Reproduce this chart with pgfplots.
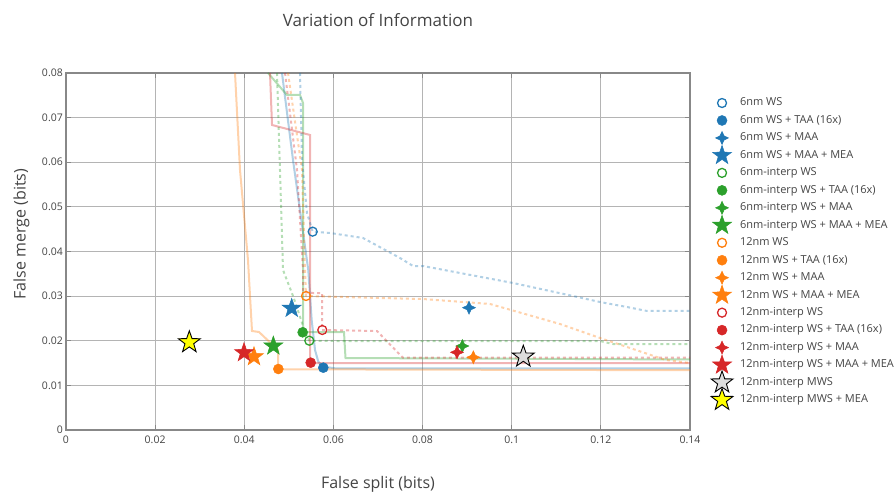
\documentclass[border=0pt]{standalone}
\usepackage{pgfplots}
\pgfplotsset{compat=1.18}
\usepackage{fontspec}
\setmainfont{Open Sans}
\definecolor{cB}{HTML}{1F77B4}
\definecolor{cO}{HTML}{FF7F0E}
\definecolor{cG}{HTML}{2CA02C}
\definecolor{cR}{HTML}{D62728}
\definecolor{txt}{HTML}{444444}
\definecolor{gridc}{HTML}{B4B4B4}
\definecolor{axc}{HTML}{888888}
\definecolor{mgray}{HTML}{DDDDDD}
\definecolor{myel}{HTML}{FFFF00}

\pgfdeclareplotmark{fivestar}{%
  \pgfpathmoveto{\pgfpointpolar{90}{\pgfplotmarksize}}%
  \pgfpathlineto{\pgfpointpolar{126}{0.4\pgfplotmarksize}}%
  \pgfpathlineto{\pgfpointpolar{162}{\pgfplotmarksize}}%
  \pgfpathlineto{\pgfpointpolar{198}{0.4\pgfplotmarksize}}%
  \pgfpathlineto{\pgfpointpolar{234}{\pgfplotmarksize}}%
  \pgfpathlineto{\pgfpointpolar{270}{0.4\pgfplotmarksize}}%
  \pgfpathlineto{\pgfpointpolar{306}{\pgfplotmarksize}}%
  \pgfpathlineto{\pgfpointpolar{342}{0.4\pgfplotmarksize}}%
  \pgfpathlineto{\pgfpointpolar{18}{\pgfplotmarksize}}%
  \pgfpathlineto{\pgfpointpolar{54}{0.4\pgfplotmarksize}}%
  \pgfpathclose
  \pgfusepathqfillstroke
}
\pgfdeclareplotmark{fourstar}{%
  \pgfpathmoveto{\pgfpointpolar{90}{\pgfplotmarksize}}%
  \pgfpathlineto{\pgfpointpolar{135}{0.45\pgfplotmarksize}}%
  \pgfpathlineto{\pgfpointpolar{180}{\pgfplotmarksize}}%
  \pgfpathlineto{\pgfpointpolar{225}{0.45\pgfplotmarksize}}%
  \pgfpathlineto{\pgfpointpolar{270}{\pgfplotmarksize}}%
  \pgfpathlineto{\pgfpointpolar{315}{0.45\pgfplotmarksize}}%
  \pgfpathlineto{\pgfpointpolar{0}{\pgfplotmarksize}}%
  \pgfpathlineto{\pgfpointpolar{45}{0.45\pgfplotmarksize}}%
  \pgfpathclose
  \pgfusepathqfillstroke
}

\pgfplotsset{
  sol/.style={forget plot, no markers, line width=2bp, draw opacity=0.35},
  dott/.style={forget plot, no markers, line width=2bp, draw opacity=0.35, dash pattern=on 3bp off 3bp},
  mk/.style={only marks,
    legend image code/.code={%
      \pgfpathrectangle{\pgfpoint{0bp}{-4bp}}{\pgfpoint{29bp}{8bp}}%
      \pgfusepath{use as bounding box}%
      \draw[mark repeat=1,##1,overlay] plot coordinates {(11bp,0bp)};
    }},
  ws/.style={mk, mark=o, mark size=4.5bp, line width=1.3bp},
  taa/.style={mk, mark=*, mark size=5bp, line width=0.5bp},
  maa/.style={mk, mark=fourstar, mark size=6.5bp, line width=0.5bp},
  mea/.style={mk, mark=fivestar, mark size=10bp, line width=0.5bp},
}

\begin{document}
\begin{tikzpicture}
\begin{axis}[
  at={(0,0)}, anchor=south west,
  scale only axis, width=624bp, height=357bp,
  xmin=0, xmax=0.14, ymin=0, ymax=0.08,
  xtick={0,0.02,0.04,0.06,0.08,0.1,0.12,0.14},
  ytick={0,0.01,0.02,0.03,0.04,0.05,0.06,0.07,0.08},
  scaled ticks=false,
  /pgf/number format/.cd, fixed, precision=2, assume math mode=true, /pgfplots/.cd,
  grid=major, major grid style={gridc, line width=1bp},
  axis line style={axc, line width=1.2bp},
  tick style={axc, line width=1bp}, tick align=inside, major tick length=5bp,
  tick label style={font=\fontsize{10.5bp}{12bp}\selectfont, text=txt},
  yticklabel style={anchor=east, inner sep=0pt, xshift=-3bp},
  xticklabel style={anchor=north, inner sep=0pt, yshift=-6bp},
  legend style={at={(1.0337,0.9404)}, anchor=north west, draw=none, fill=none,
    inner sep=0pt, outer sep=0pt, row sep=0pt, column sep=0pt,
    font=\fontsize{11bp}{13bp}\selectfont, text=txt,
    nodes={inner sep=0pt, text height=11.6bp, text depth=5.87bp}},
  legend cell align=left,
]
% ---- lines ----
\addplot[sol, cB] coordinates {(0.04846,0.08) (0.05093,0.0605) (0.05436,0.03585) (0.05512,0.02465) (0.05587,0.01793) (0.05661,0.01531) (0.05773,0.01419) (0.06035,0.01383) (0.14,0.01383)};
\addplot[sol, cG] coordinates {(0.04532,0.08) (0.04958,0.07507) (0.0525,0.07507) (0.05318,0.07328) (0.05318,0.02196) (0.06237,0.02196) (0.06271,0.01613) (0.14,0.0158)};
\addplot[sol, cR] coordinates {(0.04577,0.08) (0.04622,0.06835) (0.05475,0.06611) (0.05475,0.01501) (0.14,0.01501)};
\addplot[sol, cO] coordinates {(0.03792,0.08) (0.03904,0.05826) (0.04083,0.0381) (0.04173,0.02219) (0.0433,0.02196) (0.04757,0.01793) (0.04757,0.0136) (0.14,0.0134)};
\addplot[dott, cB] coordinates {(0.0525,0.08) (0.05295,0.0605) (0.05407,0.04863) (0.05534,0.04445) (0.05923,0.04415) (0.06664,0.04303) (0.07494,0.03854) (0.07786,0.03675) (0.0801,0.03675) (0.1003,0.03294) (0.11375,0.03003) (0.1198,0.02868) (0.12587,0.02756) (0.13036,0.02667) (0.14,0.02667)};
\addplot[dott, cG] coordinates {(0.04734,0.08) (0.04801,0.05826) (0.04869,0.03585) (0.051,0.02987) (0.05324,0.02315) (0.05459,0.02001) (0.0606,0.01994) (0.1198,0.01994) (0.1227,0.01927) (0.14,0.01927)};
\addplot[dott, cR] coordinates {(0.04914,0.08) (0.05183,0.05826) (0.05318,0.03585) (0.05318,0.03092) (0.05542,0.0307) (0.05744,0.0307) (0.05744,0.02241) (0.06978,0.02218) (0.0747,0.0171) (0.07561,0.0162) (0.14,0.0162)};
\addplot[dott, cO] coordinates {(0.04981,0.08) (0.05295,0.05826) (0.05362,0.03585) (0.05385,0.03003) (0.07045,0.02958) (0.0801,0.02935) (0.09513,0.02824) (0.11084,0.02375) (0.11981,0.02062) (0.12587,0.0186) (0.1345,0.0157) (0.14,0.01501)};
% ---- markers ----
\addplot[ws, cB] coordinates {(0.05534,0.04445)}; \addlegendentry{6nm WS}
\addplot[taa, cB] coordinates {(0.05773,0.01397)}; \addlegendentry{6nm WS + TAA (16x)}
\addplot[maa, cB] coordinates {(0.09042,0.02741)}; \addlegendentry{6nm WS + MAA}
\addplot[mea, cB] coordinates {(0.05064,0.02727)}; \addlegendentry{6nm WS + MAA + MEA}
\addplot[ws, cG] coordinates {(0.05459,0.02001)}; \addlegendentry{6nm-interp WS}
\addplot[taa, cG] coordinates {(0.0531,0.02189)}; \addlegendentry{6nm-interp WS + TAA (16x)}
\addplot[maa, cG] coordinates {(0.08892,0.01882)}; \addlegendentry{6nm-interp WS + MAA}
\addplot[mea, cG] coordinates {(0.04652,0.01882)}; \addlegendentry{6nm-interp WS + MAA + MEA}
\addplot[ws, cO] coordinates {(0.05385,0.03003)}; \addlegendentry{12nm WS}
\addplot[taa, cO] coordinates {(0.04764,0.01367)}; \addlegendentry{12nm WS + TAA (16x)}
\addplot[maa, cO] coordinates {(0.09139,0.01629)}; \addlegendentry{12nm WS + MAA}
\addplot[mea, cO] coordinates {(0.04218,0.01643)}; \addlegendentry{12nm WS + MAA + MEA}
\addplot[ws, cR] coordinates {(0.0575,0.02241)}; \addlegendentry{12nm-interp WS}
\addplot[taa, cR] coordinates {(0.0549,0.01509)}; \addlegendentry{12nm-interp WS + TAA (16x)}
\addplot[maa, cR] coordinates {(0.08773,0.01741)}; \addlegendentry{12nm-interp WS + MAA}
\addplot[mea, cR] coordinates {(0.03994,0.01733)}; \addlegendentry{12nm-interp WS + MAA + MEA}
\addplot[mk, mark=fivestar, mark size=11.5bp, mark options={draw=black, fill=mgray, line width=0.9bp}] coordinates {(0.1026,0.01643)}; \addlegendentry{12nm-interp MWS}
\addplot[mk, mark=fivestar, mark size=11.5bp, mark options={draw=black, fill=myel, line width=0.9bp}] coordinates {(0.02767,0.01965)}; \addlegendentry{12nm-interp MWS + MEA}
\end{axis}
\node[anchor=base, text=txt, font=\fontsize{17bp}{20bp}\selectfont] at (312bp,403.5bp) {Variation of Information};
\node[anchor=base, text=txt, font=\fontsize{16bp}{19bp}\selectfont] at (312bp,-58.5bp) {False split (bits)};
\node[anchor=base, rotate=90, text=txt, font=\fontsize{16bp}{19bp}\selectfont] at (-40.5bp,196bp) {False merge (bits)};
\pgfresetboundingbox
\path (-66bp,-64bp) rectangle (830bp,430bp);
\end{tikzpicture}
\end{document}
